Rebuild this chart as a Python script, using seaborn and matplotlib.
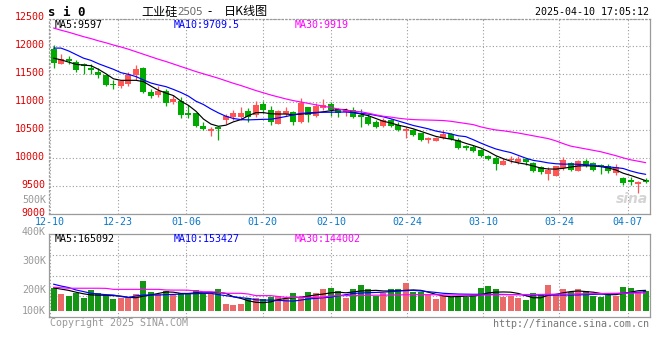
import numpy as np
import pandas as pd
import matplotlib
matplotlib.use("Agg")
import matplotlib.pyplot as plt
import matplotlib.transforms as mtransforms
import seaborn as sns

# x-axis date labels and the candle index they sit on
date_labels = ["12-10", "12-23", "01-06", "01-20", "02-10", "02-24", "03-10", "03-24", "04-07"]
date_idx = [0, 9, 18, 28, 37, 47, 57, 67, 76]

# daily candles
open_ = [11946, 11685, 11762, 11714, 11685, 11613, 11548, 11482, 11321, 11292,
         11321, 11488, 11607, 11179, 11125, 11208, 11000, 11030, 10810, 10800,
         10577, 10488, 10548, 10685, 10732, 10732, 10845, 10774, 10976, 10863,
         10619, 10792, 10827, 10655, 10911, 10762, 10893, 10976, 10881, 10833,
         10863, 10756, 10744, 10655, 10583, 10684, 10595, 10494, 10506, 10446,
         10327, 10310, 10357, 10429, 10327, 10208, 10208, 10149, 10030, 10000,
         9881, 9958, 9929, 9988, 9911, 9833, 9714, 9685, 9822, 9911,
         9774, 9952, 9911, 9869, 9863, 9732, 9643, 9613, 9542, 9613]
high = [12018, 11857, 11821, 11756, 11708, 11679, 11607, 11490, 11405, 11381,
        11542, 11667, 11631, 11230, 11286, 11232, 11137, 11089, 10946, 10804,
        10649, 10565, 10565, 10792, 10863, 10917, 10893, 11024, 11030, 10935,
        10863, 10911, 10851, 11083, 10923, 10982, 11054, 11012, 10905, 10893,
        10923, 10875, 10792, 10684, 10714, 10696, 10655, 10565, 10518, 10458,
        10387, 10387, 10506, 10446, 10357, 10238, 10238, 10161, 10060, 10030,
        10000, 10042, 10042, 10000, 9929, 9851, 9839, 9863, 10018, 9935,
        9958, 9982, 9935, 9899, 9893, 9893, 9661, 9661, 9583, 9643]
low = [11619, 11680, 11690, 11548, 11500, 11500, 11440, 11300, 11232, 11256,
       11292, 11393, 11173, 11083, 11089, 10929, 10976, 10720, 10726, 10565,
       10506, 10399, 10327, 10613, 10685, 10685, 10655, 10744, 10804, 10595,
       10619, 10762, 10601, 10637, 10655, 10744, 10863, 10762, 10732, 10762,
       10714, 10565, 10595, 10536, 10565, 10554, 10494, 10369, 10399, 10298,
       10280, 10298, 10339, 10327, 10161, 10149, 10107, 10012, 9970, 9780,
       9869, 9911, 9893, 9881, 9744, 9714, 9613, 9685, 9792, 9762,
       9762, 9839, 9762, 9714, 9732, 9702, 9512, 9524, 9375, 9554]
close = [11708, 11780, 11744, 11571, 11643, 11577, 11488, 11304, 11304, 11381,
         11482, 11589, 11185, 11107, 11196, 10988, 11060, 10780, 10780, 10580,
         10524, 10524, 10524, 10762, 10815, 10815, 10732, 10952, 10869, 10655,
         10845, 10845, 10655, 10982, 10774, 10935, 10952, 10870, 10810, 10857,
         10744, 10744, 10613, 10565, 10684, 10577, 10506, 10518, 10417, 10327,
         10357, 10369, 10429, 10339, 10179, 10179, 10119, 10030, 9988, 9893,
         9952, 9982, 9988, 9923, 9762, 9744, 9792, 9863, 9970, 9780,
         9941, 9863, 9780, 9851, 9762, 9833, 9554, 9571, 9554, 9571]

# price moving averages as drawn
ma5 = [11790, 11760, 11720, 11680, 11665, 11655, 11590, 11510, 11420, 11393,
       11393, 11393, 11370, 11290, 11215, 11165, 11120, 11020, 10945, 10840,
       10700, 10610, 10570, 10590, 10650, 10690, 10760, 10815, 10815, 10795,
       10790, 10790, 10778, 10788, 10800, 10812, 10830, 10850, 10870, 10870,
       10820, 10790, 10760, 10710, 10660, 10630, 10590, 10560, 10525, 10480,
       10435, 10390, 10362, 10340, 10310, 10265, 10225, 10180, 10120, 10045,
       9990, 9945, 9915, 9893, 9860, 9822, 9806, 9804, 9818, 9840,
       9860, 9863, 9860, 9848, 9825, 9790, 9730, 9690, 9645, 9597]
ma10 = [11970, 11970, 11920, 11855, 11790, 11750, 11690, 11640, 11590, 11530,
        11500, 11460, 11400, 11345, 11310, 11280, 11230, 11175, 11110, 11020,
        10960, 10880, 10810, 10750, 10710, 10690, 10685, 10690, 10695, 10696,
        10720, 10745, 10775, 10800, 10812, 10818, 10821, 10822, 10825, 10825,
        10815, 10800, 10790, 10765, 10740, 10705, 10665, 10625, 10585, 10555,
        10525, 10485, 10460, 10435, 10400, 10385, 10330, 10270, 10215, 10165,
        10130, 10100, 10050, 10000, 9960, 9940, 9915, 9900, 9893, 9893,
        9890, 9883, 9870, 9855, 9845, 9830, 9815, 9770, 9735, 9710]
ma30 = [12330, 12290, 12255, 12215, 12175, 12140, 12100, 12065, 12025, 11990,
        11950, 11905, 11860, 11815, 11770, 11730, 11685, 11640, 11595, 11550,
        11510, 11470, 11430, 11385, 11340, 11300, 11255, 11210, 11170, 11130,
        11095, 11060, 11030, 11005, 10980, 10955, 10930, 10905, 10880, 10855,
        10840, 10830, 10805, 10775, 10750, 10735, 10715, 10700, 10690, 10685,
        10682, 10678, 10673, 10660, 10640, 10620, 10600, 10560, 10530, 10505,
        10490, 10470, 10450, 10425, 10400, 10375, 10350, 10310, 10260, 10215,
        10190, 10165, 10140, 10115, 10080, 10045, 10005, 9970, 9945, 9919]

# volume (thousand lots) and its moving averages
vol_k = [181, 135, 119, 146, 103, 167, 146, 130, 95, 103,
         103, 135, 241, 151, 135, 157, 130, 141, 141, 165,
         143, 135, 176, 54, 46, 54, 100, 100, 95, 111,
         119, 97, 143, 113, 151, 143, 176, 184, 160, 103,
         176, 208, 176, 117, 146, 176, 176, 224, 151, 151,
         130, 97, 122, 108, 122, 113, 127, 184, 200, 176,
         113, 122, 103, 89, 143, 135, 208, 135, 176, 151,
         176, 160, 122, 111, 127, 122, 190, 185, 155, 160]
vol_ma5_k = [185, 175, 165, 150, 137, 128, 126, 125, 122, 118,
             108, 105, 118, 128, 140, 152, 150, 140, 140, 145,
             145, 145, 148, 140, 113, 100, 80, 68, 65, 72,
             90, 100, 105, 110, 118, 128, 135, 145, 150, 145,
             152, 160, 162, 165, 160, 160, 162, 165, 168, 165,
             150, 133, 120, 113, 115, 118, 120, 128, 145, 150,
             152, 150, 140, 122, 105, 105, 125, 132, 145, 155,
             160, 155, 150, 140, 130, 130, 140, 150, 162, 165]
vol_ma10_k = [215, 200, 188, 168, 155, 141, 135, 130, 127, 115,
              107, 120, 127, 127, 127, 130, 132, 135, 137, 138,
              140, 141, 130, 122, 113, 105, 100, 88, 86, 86,
              84, 80, 78, 86, 95, 100, 105, 110, 120, 130,
              140, 143, 146, 148, 150, 155, 160, 163, 165, 160,
              154, 148, 141, 138, 135, 134, 133, 133, 133, 132,
              132, 130, 130, 128, 127, 127, 127, 127, 127, 127,
              128, 130, 132, 134, 135, 138, 142, 146, 150, 153]
vol_ma30_k = [190, 186, 182, 182, 182, 182, 182, 181, 173, 173,
              173, 173, 173, 173, 173, 168, 167, 167, 166, 160,
              154, 154, 150, 141, 141, 141, 135, 122, 122, 122,
              115, 108, 108, 108, 108, 108, 110, 120, 122, 122,
              123, 124, 125, 126, 126, 127, 128, 129, 130, 130,
              130, 129, 128, 127, 126, 126, 126, 127, 128, 129,
              130, 130, 131, 131, 131, 132, 133, 134, 135, 135,
              136, 137, 138, 139, 140, 141, 142, 143, 143, 144]

RED = "#ff5555"
GREEN = "#00aa00"
GRID = "#9a9a9a"
MONO = "DejaVu Sans Mono"

df = pd.DataFrame({"open": open_, "high": high, "low": low, "close": close,
                   "ma5": ma5, "ma10": ma10, "ma30": ma30})
df["i"] = np.arange(len(df))
df["dir"] = np.where(df.close > df.open, "up", "down")
colors = np.where(df.dir == "up", RED, GREEN)

vdf = pd.DataFrame({"i": df.i, "vol": np.array(vol_k) * 1000, "dir": df.dir,
                    "ma5": np.array(vol_ma5_k) * 1000,
                    "ma10": np.array(vol_ma10_k) * 1000,
                    "ma30": np.array(vol_ma30_k) * 1000})

sns.set_style("white")
plt.rcParams["font.family"] = [MONO, "Noto Sans CJK SC"]

W, H = 660, 360
fig = plt.figure(figsize=(W / 100, H / 100), dpi=100)
fig.patch.set_facecolor("white")


def box(l, t, r, b):
    return [l / W, 1 - b / H, (r - l) / W, (b - t) / H]


def px(x, y):
    return x / W, 1 - y / H


# candle center at 53.5 + 7.496*i px; grid lines step a bit wider
xlim = (-0.55, 79.51)
grid_pos = (np.array(date_idx) * 7.607 - 4.0) / 7.496

ax = fig.add_axes(box(49.4, 18.5, 649.5, 214))
axv = fig.add_axes(box(49.4, 234.3, 649.5, 317))

# ---- price panel
ax.vlines(df.i, df.low, df.high, colors=colors, lw=0.9, zorder=3)
body_lo = np.minimum(df.open, df.close)
body_h = np.maximum(np.abs(df.close - df.open), 30)
ax.bar(df.i, body_h, bottom=body_lo, width=0.8, color=colors, lw=0, zorder=3)
sns.lineplot(data=df, x="i", y="ma5", color="black", lw=0.85, ax=ax, zorder=4)
sns.lineplot(data=df, x="i", y="ma10", color="#0000ff", lw=0.85, ax=ax, zorder=4)
sns.lineplot(data=df, x="i", y="ma30", color="#ff00ff", lw=0.85, ax=ax, zorder=4)

ax.set_xlim(*xlim)
ax.set_ylim(9000, 12500)
ax.set_yticks(range(9000, 12501, 500))
ax.set_yticklabels([str(v) for v in range(9000, 12501, 500)], color="#e00000",
                   fontsize=7.2, family=MONO)
ax.set_xticks(grid_pos)
ax.set_xticklabels(date_labels, color="#0a78c8", fontsize=7.2, family=MONO)
ax.tick_params(length=0, pad=3)
ax.tick_params(axis="x", pad=2)
# price labels sit a couple of pixels above their grid lines
up2 = mtransforms.ScaledTranslation(0, 2.2 / 100, fig.dpi_scale_trans)
for lab in ax.get_yticklabels():
    lab.set_transform(lab.get_transform() + up2)
ax.set_xlabel("")
ax.set_ylabel("")
ax.grid(True, color=GRID, linestyle=(0, (1, 2)), lw=0.8)
ax.set_axisbelow(True)
for side, sp in ax.spines.items():
    sp.set_color(GRID)
    sp.set_linewidth(0.9)
    if side in ("top", "left"):
        sp.set_linestyle((0, (1, 2)))

# ---- volume panel
sns.barplot(data=vdf, x="i", y="vol", hue="dir", palette={"up": RED, "down": GREEN},
            native_scale=True, width=0.8, dodge=False, legend=False, linewidth=0,
            errorbar=None, ax=axv, zorder=3)
sns.lineplot(data=vdf, x="i", y="ma5", color="black", lw=0.85, ax=axv, zorder=4)
sns.lineplot(data=vdf, x="i", y="ma10", color="#0000ff", lw=0.85, ax=axv, zorder=4)
sns.lineplot(data=vdf, x="i", y="ma30", color="#ff00ff", lw=0.85, ax=axv, zorder=4)

vlo, vhi = -51000, 619000
axv.set_xlim(*xlim)
axv.set_ylim(vlo, vhi)
axv.set_yticks(np.linspace(vlo, vhi, 5)[1:4])
axv.set_yticklabels([])
axv.set_xticks(grid_pos)
axv.set_xticklabels([])
axv.tick_params(length=0)
axv.set_xlabel("")
axv.set_ylabel("")
axv.grid(True, color=GRID, linestyle=(0, (1, 2)), lw=0.8)
axv.set_axisbelow(True)
for sp in axv.spines.values():
    sp.set_color(GRID)
    sp.set_linewidth(0.9)

# ---- texts
fig.text(*px(48, 12), "s i 0", fontsize=9, fontweight="bold", family=MONO,
         ha="left", va="center", color="black")
fig.text(*px(141, 12), "工业硅", fontsize=8.7, family=["Noto Sans CJK SC"],
         ha="left", va="center", color="black")
fig.text(*px(177, 12.5), "2505", fontsize=8, family=["Noto Sans"],
         ha="left", va="center", color="#666666")
fig.text(*px(207, 12), "-", fontsize=8.7, family=["Noto Sans CJK SC"],
         ha="left", va="center", color="black")
fig.text(*px(224, 12), "日K线图", fontsize=8.7, family=["Noto Sans CJK SC"],
         ha="left", va="center", color="black")
fig.text(*px(649, 12), "2025-04-10 17:05:12", fontsize=7.2, family=MONO,
         ha="right", va="center", color="black")

for x, s, c in [(55, "MA5:9597", "black"), (174, "MA10:9709.5", "#0000ff"),
                (295, "MA30:9919", "#ff00ff")]:
    fig.text(*px(x, 24.5), s, fontsize=7.2, family=MONO, ha="left", va="center", color=c)
for x, s, c in [(55, "MA5:165092", "black"), (174, "MA10:153427", "#0000ff"),
                (295, "MA30:144002", "#ff00ff")]:
    fig.text(*px(x, 238.5), s, fontsize=7.2, family=MONO, ha="left", va="center", color=c)

for y, s in [(200, "500K"), (231.5, "400K"), (260.7, "300K"), (290, "200K"), (310.5, "100K")]:
    fig.text(*px(46, y), s, fontsize=7.2, family=MONO, ha="right", va="center", color="#999999")

fig.text(*px(50, 323.5), "Copyright 2025 SINA.COM", fontsize=7.2, family=MONO,
         ha="left", va="center", color="#999999")
fig.text(*px(649, 324), "http://finance.sina.com.cn", fontsize=7.2, family=MONO,
         ha="right", va="center", color="#777777")
fig.text(*px(632, 199), "sina", fontsize=10, fontstyle="italic", fontweight="bold",
         family=["DejaVu Sans"], ha="center", va="center", color="#d4d4d4")

fig.savefig("out.png", dpi=100, facecolor="white")
